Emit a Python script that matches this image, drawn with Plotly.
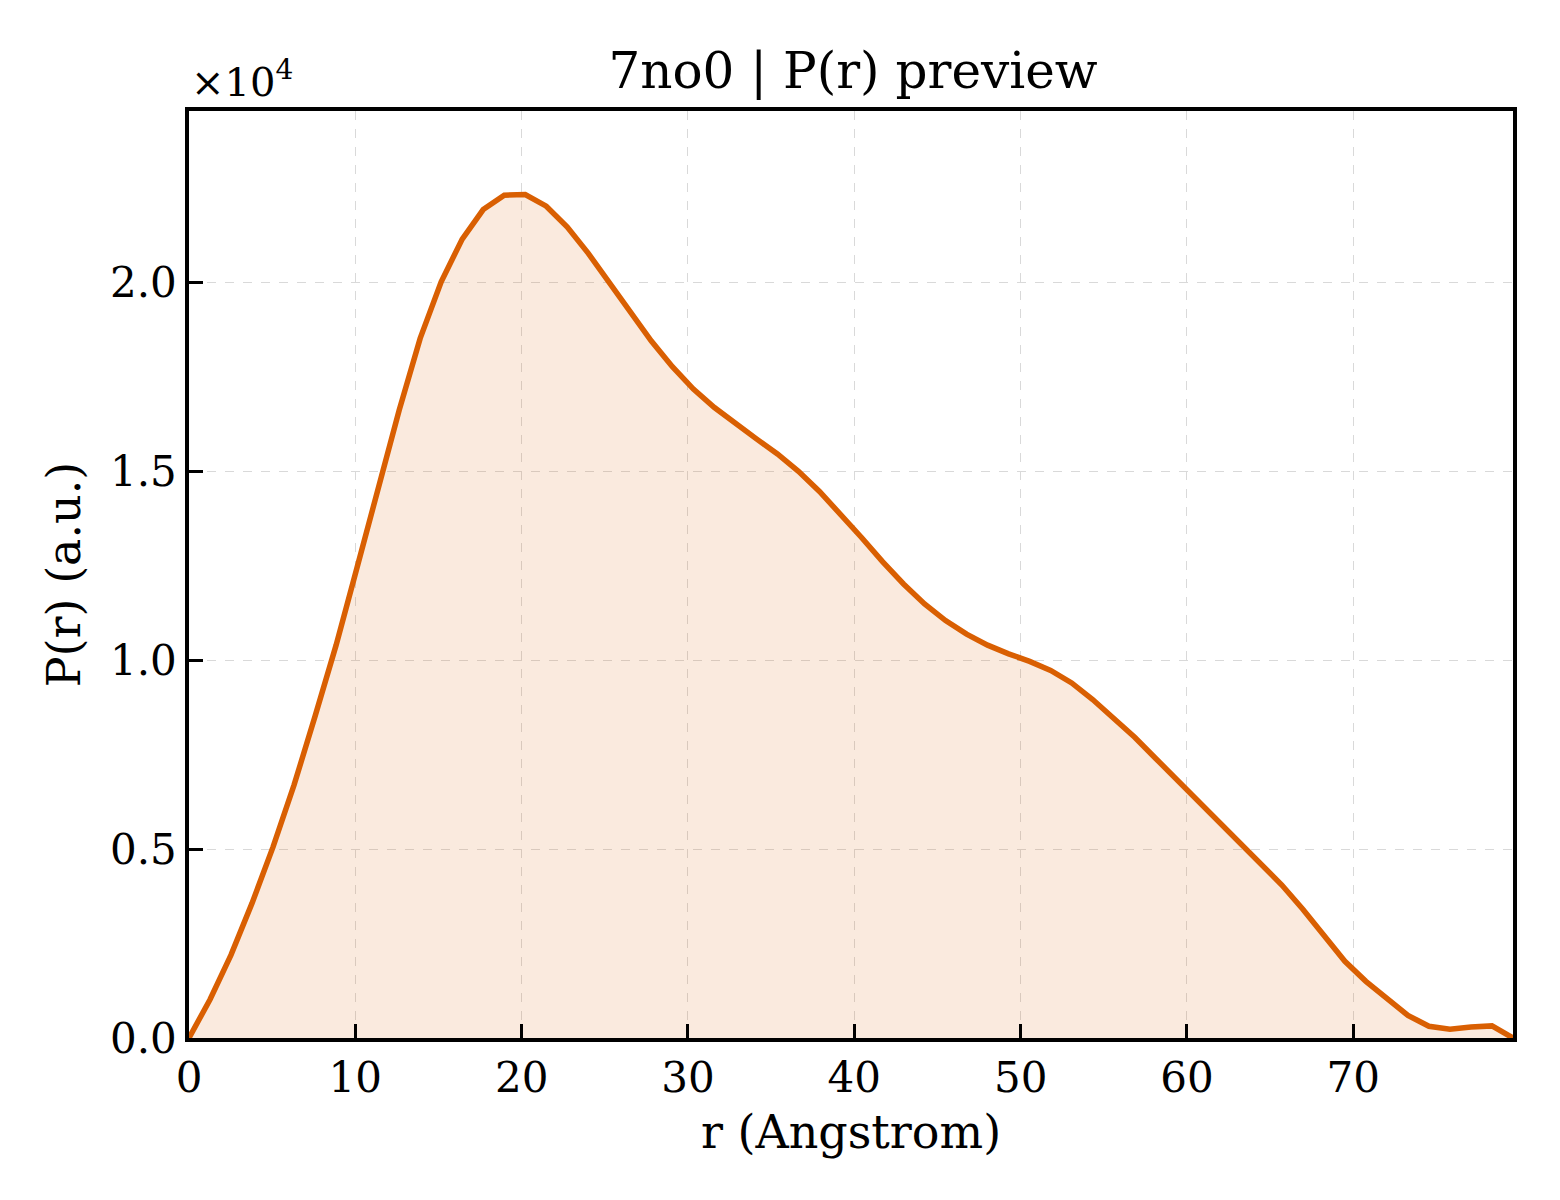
import numpy as np
import plotly.graph_objects as go

# ---- data ----
r_max = 79.6
n_points = 64
r_values = [i * r_max / (n_points - 1) for i in range(n_points)]
pr_values = [
    0, 1020, 2200, 3570, 5060, 6700, 8520, 10400, 12460, 14570,
    16620, 18520, 20020, 21150, 21930, 22310, 22330, 22020, 21470, 20770,
    20000, 19180, 18450, 17770, 17180, 16690, 16260, 15860, 15460, 15000,
    14470, 13880, 13250, 12610, 12020, 11490, 11050, 10690, 10400, 10170,
    9970, 9730, 9400, 8960, 8480, 7960, 7400, 6840, 6290, 5740,
    5180, 4630, 4050, 3410, 2700, 2030, 1500, 1030, 600, 310,
    230, 290, 320, 0,
]
x_ticks = [0, 10, 20, 30, 40, 50, 60, 70]
y_tick_vals = [0, 5000, 10000, 15000, 20000]
y_tick_text = ["0.0", "0.5", "1.0", "1.5", "2.0"]
y_top = 24540

title_text = "7no0 | P(r) preview"
x_label = "r (Angstrom)"
y_label = "P(r) (a.u.)"

FONT = "DejaVu Serif"
LINE_COLOR = "#D95F02"
FILL_COLOR = "rgba(217,95,2,0.13)"

fig = go.Figure()
fig.add_trace(go.Scatter(
    x=r_values, y=pr_values, mode="lines",
    line=dict(color=LINE_COLOR, width=5.5),
    fill="tozeroy", fillcolor=FILL_COLOR,
    showlegend=False, hoverinfo="skip",
))

axis_common = dict(
    showline=True, linecolor="black", linewidth=3.5, mirror=True,
    ticks="inside", ticklen=14, tickwidth=3, tickcolor="black",
    showgrid=True, gridcolor="#d9d9d9", gridwidth=1.3, griddash="dash",
    zeroline=False,
    tickfont=dict(family=FONT, size=42, color="black"),
)

fig.update_layout(
    width=1560, height=1200,
    margin=dict(l=181, r=55, t=103, b=170),
    paper_bgcolor="white", plot_bgcolor="white",
    font=dict(family=FONT, color="black"),
    title=dict(text=title_text, x=0.5417, xanchor="center", y=0.948, yanchor="middle",
               font=dict(family=FONT, size=50, color="black")),
    xaxis=dict(
        range=[0, r_max], tickvals=x_ticks,
        title=dict(text=x_label, font=dict(family=FONT, size=46, color="black"), standoff=16),
        **axis_common,
    ),
    yaxis=dict(
        range=[0, y_top], tickvals=y_tick_vals, ticktext=y_tick_text,
        title=dict(text=y_label, font=dict(family=FONT, size=46, color="black"), standoff=16),
        **axis_common,
    ),
    annotations=[dict(
        text="×10<sup>4</sup>", xref="paper", yref="paper", x=0.0, y=1.0,
        xanchor="left", yanchor="bottom", showarrow=False, xshift=0, yshift=4,
        font=dict(family=FONT, size=40, color="black"),
    )],
)

fig.write_html("out.html")
